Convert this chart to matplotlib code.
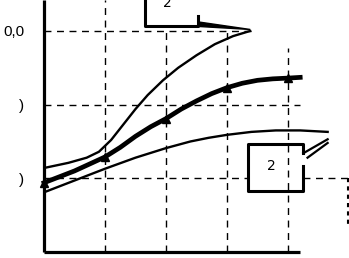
import matplotlib
matplotlib.use('Agg')
import matplotlib.pyplot as plt
from matplotlib.patches import Polygon

# curve readings (x in grid units, y in grid units)
upper_x = [0, 0.4, 0.7, 0.9, 1.1, 1.3, 1.5, 1.7, 1.95, 2.2, 2.5, 2.8, 3.1, 3.38]
upper_y = [1.14, 1.21, 1.28, 1.36, 1.52, 1.73, 1.94, 2.13, 2.33, 2.5, 2.67, 2.82, 2.93, 3.0]

mid_x = [0, 0.5, 1, 1.25, 1.5, 1.75, 2, 2.25, 2.5, 2.75, 3, 3.25, 3.5, 3.75, 4, 4.2]
mid_y = [0.94, 1.1, 1.29, 1.42, 1.57, 1.7, 1.81, 1.94, 2.05, 2.15, 2.23, 2.29, 2.33, 2.35, 2.36, 2.37]
mid_marks = [0, 2, 6, 10, 14]

low_x = [0, 0.5, 1.0, 1.5, 2.0, 2.4, 2.7, 3.0, 3.4, 3.8, 4.2, 4.65]
low_y = [0.81, 0.97, 1.13, 1.28, 1.41, 1.5, 1.55, 1.59, 1.63, 1.65, 1.65, 1.63]

ytick_pos = [1, 2, 3]
ytick_labels = [')', ')', '0,0']
callout_text = ['2', '2']

fig = plt.figure(figsize=(3.49, 2.58), dpi=100)
ax = fig.add_axes([44/349, 6/258, 305/349, 252/258])
ax.set_xlim(0, 5)
ax.set_ylim(0, 3.42)
for s in ax.spines.values():
    s.set_visible(False)
ax.set_xticks([])
ax.set_yticks(ytick_pos)
ax.set_yticklabels(ytick_labels, fontsize=11, family='Liberation Sans')
ax.tick_params(axis='y', length=0, pad=14)

# dashed grid, each line with its own extent
dash = dict(color='black', lw=1.0, ls=(0, (5, 4)))
ax.plot([0, 3.4], [3, 3], **dash)
ax.plot([0, 4.2], [2, 2], **dash)
ax.plot([0, 3.35], [1, 1], **dash)
ax.plot([4.25, 5.0], [1, 1], **dash)
ax.plot([1, 1], [0, 3.42], **dash)
ax.plot([2, 2], [0, 3.0], **dash)
ax.plot([3, 3], [0, 3.0], **dash)
ax.plot([4, 4], [0, 2.77], **dash)
ax.plot([4.985, 4.985], [1.0, 0.36], color='black', lw=1.5,
        ls=(0, (2, 2)), clip_on=False)

# axes lines
ax.plot([0, 0], [0, 3.42], color='black', lw=2.3, clip_on=False,
        solid_capstyle='butt')
ax.plot([0, 4.2], [0, 0], color='black', lw=2.3, clip_on=False,
        solid_capstyle='butt')

# curves
ax.plot(upper_x, upper_y, color='black', lw=1.7, solid_joinstyle='round')
ax.plot(low_x, low_y, color='black', lw=1.7, solid_joinstyle='round')
ax.plot(mid_x, mid_y, color='black', lw=3.4, marker='^', markersize=6,
        markevery=mid_marks, clip_on=False, solid_joinstyle='round')

# callout 1 (top)
ax.plot([2.52, 1.66, 1.66, 2.52, 2.52], [3.5, 3.5, 3.07, 3.07, 3.2],
        color='black', lw=2.2, clip_on=True)
ax.add_patch(Polygon([[2.55, 3.12], [3.38, 3.02], [2.55, 3.06]],
                     closed=True, color='black', lw=1))
ax.text(2.03, 3.38, callout_text[0], fontsize=10, ha='center',
        va='center', family='DejaVu Sans', clip_on=True)

# callout 2 (right)
ax.plot([4.24, 4.24, 3.35, 3.35, 4.24, 4.24],
        [1.34, 1.47, 1.47, 0.83, 0.83, 1.17], color='black', lw=2.2)
ax.plot([4.25, 4.65], [1.34, 1.53], color='black', lw=1.6)
ax.plot([4.32, 4.65], [1.28, 1.48], color='black', lw=1.6)
ax.text(3.72, 1.17, callout_text[1], fontsize=10, ha='center',
        va='center', family='DejaVu Sans')

fig.savefig('out.png', dpi=100)
